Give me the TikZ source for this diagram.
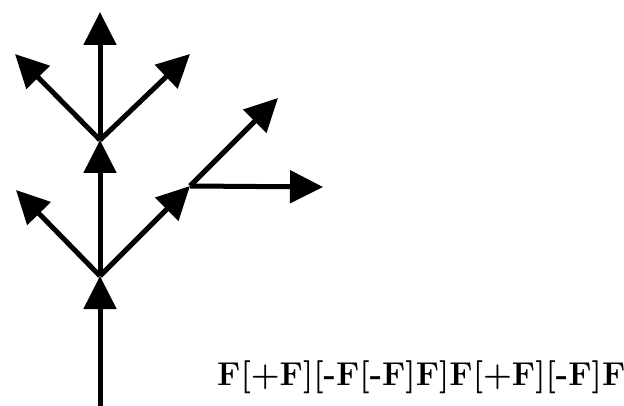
\documentclass[tikz,border=0pt]{standalone}
\usepackage{tikz}
\usetikzlibrary{arrows.meta}

\begin{document}
\begin{tikzpicture}[x=1pt, y=-1pt,
  >={Triangle[length=33pt, width=32pt]},
  seg/.style={->, line width=5pt},
  rule/.style={font=\bfseries\fontsize{33}{38}\selectfont, inner sep=0pt, anchor=base west}]
  \useasboundingbox (0,0) rectangle (624,406);
  % turtle positions
  \coordinate (root) at (100,406);
  \coordinate (a) at (100,276);
  \coordinate (b) at (100,140);
  \coordinate (c) at (190,186);
  \coordinate (al) at (16,190);
  \coordinate (top) at (100,12);
  \coordinate (bl) at (15,54);
  \coordinate (br) at (190,54);
  \coordinate (cr) at (278,98);
  \coordinate (ch) at (323,187);
  \draw[seg] (root) -- (a);
  \draw[seg] (a) -- (al);
  \draw[seg] (a) -- (c);
  \draw[seg] (c) -- (cr);
  \draw[seg] (c) -- (ch);
  \draw[seg] (a) -- (b);
  \draw[seg] (b) -- (bl);
  \draw[seg] (b) -- (br);
  \draw[seg] (b) -- (top);
  \node[rule] (str) at (217,385) {F[+F][-F[-F]F]F[+F][-F]F};
\end{tikzpicture}
\end{document}
